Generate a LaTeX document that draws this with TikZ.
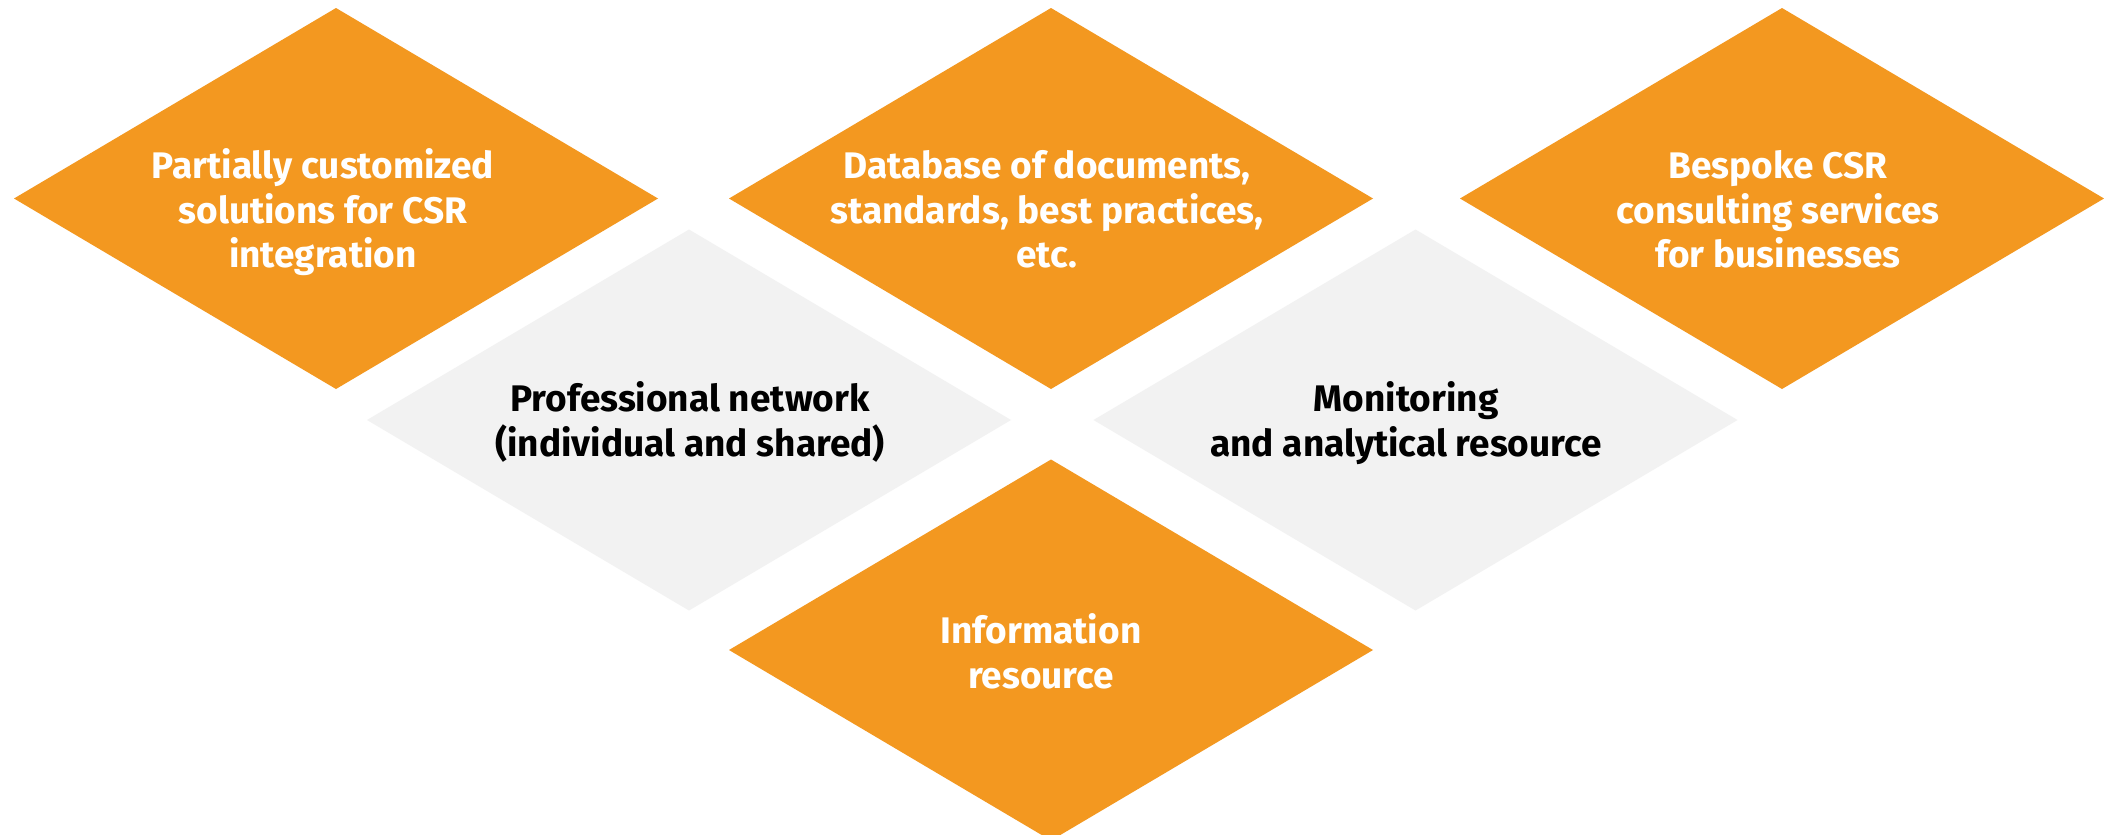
\documentclass[tikz,border=0pt]{standalone}
\usepackage{fontspec}
\setmainfont{Fira Sans}
\usetikzlibrary{shapes.geometric}
\definecolor{orangeD}{HTML}{F39820}
\definecolor{grayD}{HTML}{F2F2F2}
\tikzset{
  dia/.style={shape=diamond, inner sep=0pt, outer sep=0pt, draw=none,
    minimum width=644pt, minimum height=381pt},
  odia/.style={dia, fill=orangeD},
  gdia/.style={dia, fill=grayD},
  lbl/.style={align=center, inner sep=0pt, anchor=base,
    font=\fontsize{37}{44.5}\selectfont\bfseries},
  wlbl/.style={lbl, text=white},
  klbl/.style={lbl, text=black},
}
\begin{document}
\begin{tikzpicture}[x=1pt,y=-1pt]
\useasboundingbox (0,0) rectangle (2104,835);
\fill[white] (0,0) rectangle (2104,835);
\node[odia] (d1) at (336,198.5) {};
\node[odia] (d2) at (1051,198.5) {};
\node[odia] (d3) at (1782,198.5) {};
\node[gdia] (d4) at (689,420) {};
\node[gdia] (d5) at (1415.5,420) {};
\node[odia] (d6) at (1051,650) {};
\node[wlbl] (t1) at (323,267.7) {Partially customized\\solutions for CSR\\integration};
\node[wlbl] (t2) at (1047,267.7) {Database of documents,\\standards, best practices,\\etc.};
\node[wlbl] (t3) at (1778,267.7) {Bespoke CSR\\consulting services\\for businesses};
\node[klbl] (t4) at (690,456) {Professional network\\(individual and shared)};
\node[klbl] (t5) at (1406,456) {Monitoring\\and analytical resource};
\node[wlbl] (t6) at (1041,688.3) {Information\\resource};
\end{tikzpicture}
\end{document}
